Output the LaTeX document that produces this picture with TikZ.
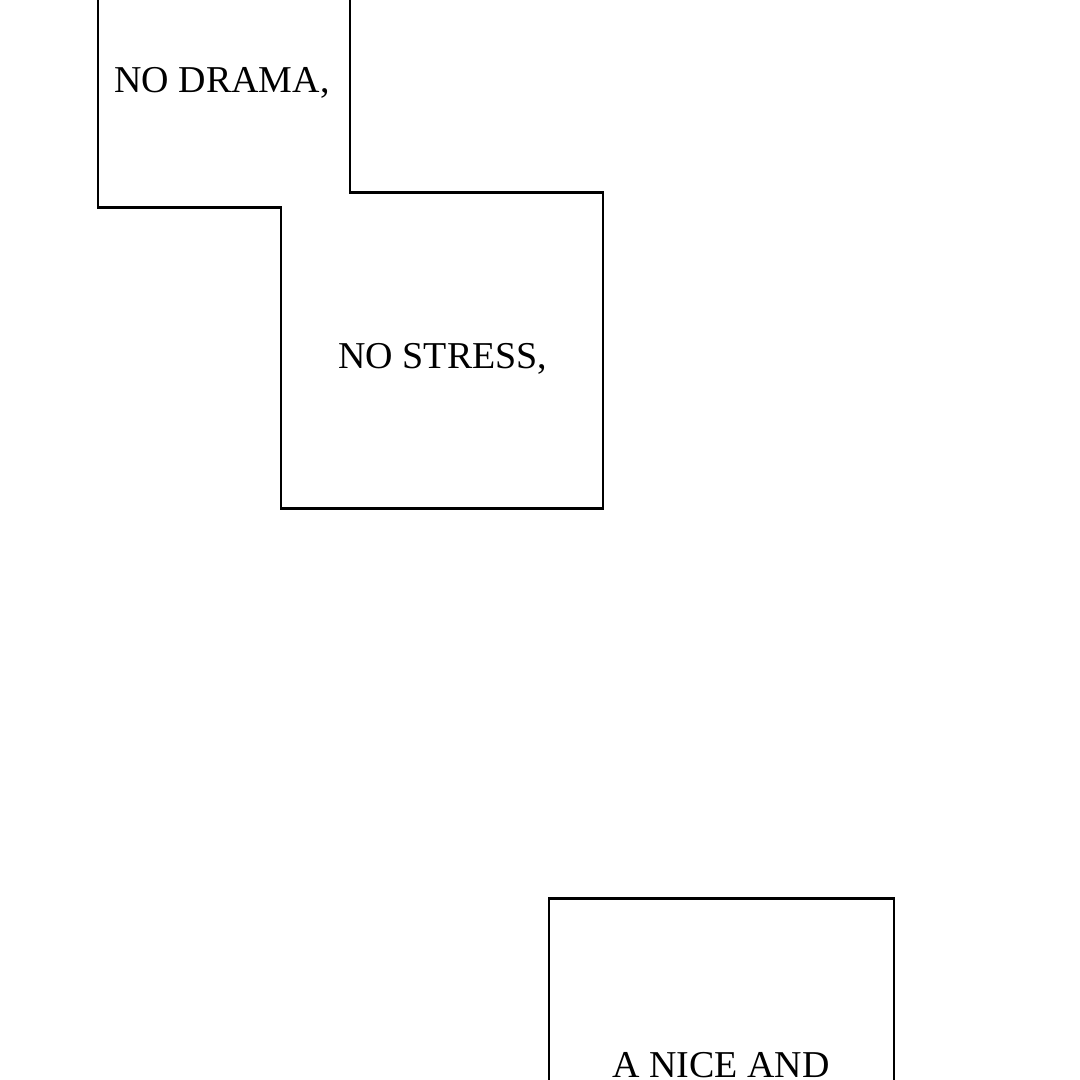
\documentclass[tikz,border=0pt]{standalone}
\usepackage{fontspec}
\setmainfont{Liberation Serif}
\begin{document}
\begin{tikzpicture}[x=0.1mm,y=-0.1mm,
    panel/.style={draw=black,line width=0.85pt,line join=miter},
    caption/.style={anchor=base,inner sep=0pt,font=\fontsize{10.8}{13}\selectfont}]
      \clip (0,0) rectangle (1080,1080);
      \useasboundingbox (0,0) rectangle (1080,1080);
      % upper panels, one joined outline
      \draw[panel] (98,-10) -- (98,207) -- (281,207) -- (281,508)
        -- (603,508) -- (603,192) -- (350,192) -- (350,-10);
      % lower panel
      \draw[panel] (549,1090) -- (549,898) -- (894,898) -- (894,1090);
      \node[caption] (drama) at (222,92) {NO DRAMA,};
      \node[caption] (stress) at (443,368) {NO STRESS,};
      \node[caption] (nice) at (721,1077) {A NICE AND};
    \end{tikzpicture}
\end{document}
